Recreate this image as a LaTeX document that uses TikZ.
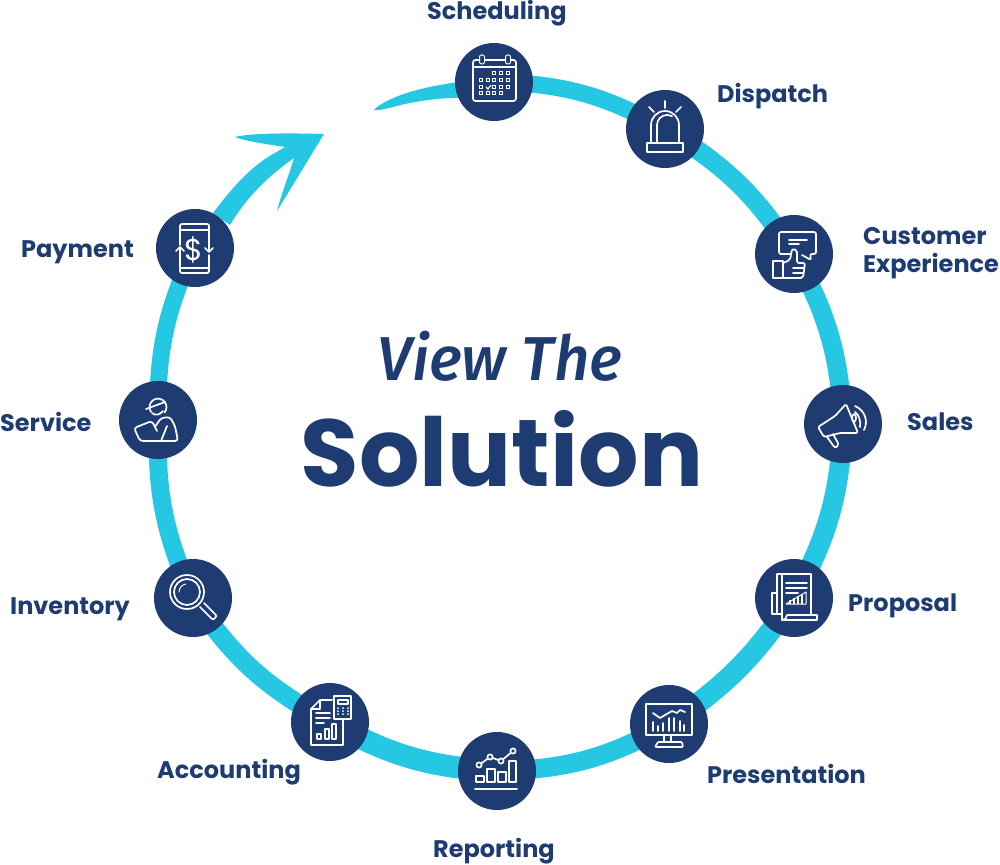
\documentclass[tikz,border=0pt]{standalone}
\usepackage{fontspec}
\setmainfont{Poppins}
\newfontfamily\viewfont{Fira Sans Medium}
\definecolor{navy}{HTML}{1E3C71}
\definecolor{ringblue}{HTML}{26C7E3}
\tikzset{
  stopdot/.style={circle,fill=navy,minimum size=78pt,inner sep=0pt},
  lab/.style={text=navy,font=\fontsize{24}{28}\selectfont\bfseries,inner sep=0pt,anchor=west,align=left},
  band/.style={draw=ringblue,line width=19pt},
  ic/.style={draw=white,line width=1.7pt,line join=round,line cap=round},
  icf/.style={draw=white,line width=1.1pt},
}
\begin{document}
\begin{tikzpicture}[x=1pt,y=-1pt]
\useasboundingbox (0,0) rectangle (1000,864);
% stops
\coordinate (psched) at (494,82);
\coordinate (pdisp) at (665,129);
\coordinate (pcust) at (794,254);
\coordinate (psales) at (843,424);
\coordinate (pprop) at (794,598);
\coordinate (ppres) at (669,724);
\coordinate (prep) at (497,771);
\coordinate (pacc) at (330,722);
\coordinate (pinv) at (193,598);
\coordinate (pserv) at (158,420);
\coordinate (ppay) at (195,248);
% ring
\draw[band,line width=17pt] (psched) to[bend left=14] (pdisp);
\draw[band] (pdisp) to[bend left=13] (pcust);
\draw[band] (pcust) to[bend left=13] (psales);
\draw[band,line width=20pt] (psales) to[bend left=13] (pprop);
\draw[band,line width=21pt] (pprop) to[bend left=11] (ppres);
\draw[band] (ppres) to[bend left=14] (prep);
\draw[band,line width=22pt] (prep) to[bend left=13] (pacc);
\draw[band] (pacc) to[bend left=14] (pinv);
\draw[band,line width=18pt] (pinv) to[bend left=13] (pserv);
\draw[band,line width=17pt] (pserv) to[bend left=13] (ppay);
% tail at the scheduling stop
\fill[ringblue] (374,110) .. controls (378,104) and (400,94) .. (417,90) .. controls (432,86) and (445,84) .. (470,80)
  -- (470,98) .. controls (445,97) and (425,100) .. (405,104) .. controls (392,107) and (380,111) .. (374,110) -- cycle;
% arrow from the payment stop
\fill[ringblue] (213,213) .. controls (232,188) and (248,170) .. (268,157) -- (285,147)
  .. controls (265,144) and (245,141) .. (235,137) .. controls (250,133) and (290,133) .. (324,134)
  -- (277,211) .. controls (281,195) and (290,172) .. (294,158)
  .. controls (270,175) and (248,195) .. (230,225) -- cycle;
% nodes
\node[stopdot] (sched) at (psched) {};
\node[stopdot] (disp) at (pdisp) {};
\node[stopdot] (cust) at (pcust) {};
\node[stopdot] (sales) at (psales) {};
\node[stopdot] (prop) at (pprop) {};
\node[stopdot] (pres) at (ppres) {};
\node[stopdot] (rep) at (prep) {};
\node[stopdot] (acc) at (pacc) {};
\node[stopdot] (inv) at (pinv) {};
\node[stopdot] (serv) at (pserv) {};
\node[stopdot] (pay) at (ppay) {};
% labels
\node[lab] (lsched) at (427,13) {Scheduling};
\node[lab] (ldisp) at (717,96) {Dispatch};
\node[lab] (lcust) at (863,253) {Customer\\Experience};
\node[lab] (lsales) at (907,422) {Sales};
\node[lab] (lprop) at (848,606) {Proposal};
\node[lab] (lpres) at (707,774) {Presentation};
\node[lab] (lrep) at (433,851) {Reporting};
\node[lab] (lacc) at (157,772) {Accounting};
\node[lab] (linv) at (10,609) {Inventory};
\node[lab] (lserv) at (0,422) {Service};
\node[lab] (lpay) at (21,252) {Payment};
\node[text=navy,font=\viewfont\itshape\fontsize{62}{62}\selectfont,inner sep=0pt] (view) at (500,356) {View The};
\node[text=navy,font=\fontsize{95}{95}\selectfont\bfseries,inner sep=0pt] (sol) at (502,449) {Solution};
% calendar
\begin{scope}[shift={(sched)}]
\draw[ic,rounded corners=2.5pt] (-21,-22) rectangle (22,19);
\draw[ic] (-21,-15) -- (22,-15);
\draw[ic,fill=navy,line width=1pt,rounded corners=2pt] (-14.5,-27) rectangle (-9.5,-18);
\draw[ic,fill=navy,line width=1pt,rounded corners=2pt] (11.5,-27) rectangle (16.5,-18);
\foreach \x/\y in {0/-9,7/-9,14/-9,-13/-2,-6/-2,0/-2,7/-2,14/-2,-13/5,0/5,7/5,14/5,-13/11,-6/11,0/11,7/11}
  \draw[icf] (\x-1.8,\y-1.8) rectangle (\x+1.8,\y+1.8);
\draw[icf] (-8,5) -- (-6,7) -- (-3,3);
\end{scope}
% siren
\begin{scope}[shift={(disp)}]
\draw[ic] (-18,14) rectangle (18,23);
\draw[ic] (-14,14) -- (-14,-4) arc[start angle=180,end angle=360,radius=14] -- (14,14);
\draw[ic] (-8,14) -- (-8,-4) arc[start angle=180,end angle=300,radius=10];
\draw[ic] (0,-28) -- (0,-21) (-16,-22) -- (-11,-17) (16,-22) -- (11,-17);
\end{scope}
% customer experience
\begin{scope}[shift={(cust)}]
\draw[ic,rounded corners=2pt] (-3,0) -- (-15,0) -- (-15,-22) -- (22,-22) -- (22,0) -- (16,0) -- (17,6) -- (8,1);
\draw[ic] (-5,-14) -- (13,-14) (-5,-10) -- (5,-10);
\draw[ic] (-21,7) rectangle (-11,24);
\draw[ic,rounded corners=2pt] (-11,9) -- (-4,6) -- (-2,-5) -- (3,-4) -- (3,9) -- (11,9) -- (9,24) -- (-11,24);
\draw[ic] (-1,14) -- (10,14) (-1,19) -- (9,19);
\end{scope}
% megaphone
\begin{scope}[shift={(sales)}]
\draw[ic,rounded corners=1.5pt] (-8,-8) -- (3,-20) -- (15,9) -- (-3,9) -- (-19,13) -- (-25,3) -- cycle;
\draw[ic,rounded corners=2pt] (-16,13) -- (-8,24) -- (-4,21) -- (-10,10);
\draw[ic] (11,-6) ellipse[x radius=2pt,y radius=4pt];
\draw[ic] (12,-12) .. controls (16,-9) and (18,-3) .. (17,3);
\draw[ic] (12,-18) .. controls (21,-14) and (26,-4) .. (21,6);
\end{scope}
% proposal
\begin{scope}[shift={(prop)}]
\draw[ic] (-12,22) -- (-12,-24) (-17,-24) -- (17,-24) -- (17,17) (-17,-24) -- (-17,16) -- (-12,16) (-17,-5) -- (-22,-5) -- (-22,16) -- (-17,16);
\draw[ic] (-12,22) -- (23,22) -- (23,17) -- (-7,17) (-12,22) .. controls (-9,22) and (-7,20) .. (-7,17);
\draw[ic] (-8,-15) -- (13,-15) (-8,-10) -- (13,-10) (-8,-5) -- (4,-5);
\draw[ic,line width=1pt] (-8,6) -- (12,-6) -- (12,6) -- cycle;
\foreach \x in {-4,0,4,8} \draw[icf] (\x,6) -- (\x,{0-\x*0.45});
\end{scope}
% presentation
\begin{scope}[shift={(pres)}]
\draw[ic] (-23,-20) rectangle (23,11);
\draw[ic] (-5,11) -- (-5,18) (2,11) -- (2,18);
\draw[ic,rounded corners=1pt] (-11,18) -- (13,18) -- (14,23) -- (-14,23) -- cycle;
\draw[ic] (-16,-11) -- (-9,-6) -- (-4,-9) -- (3,-13) -- (8,-11) -- (11,-14) -- (16,-12);
\foreach \x/\y in {-16/-2,-11/2,-6/-1,0/-6,5/-6,11/-3,15/1}
  \draw[ic] (\x,7) -- (\x,\y);
\end{scope}
% reporting
\begin{scope}[shift={(rep)}]
\draw[ic] (-21,5) rectangle (-13,11) (-10,-2) rectangle (-2,11) (1,1) rectangle (9,11) (12,-10) rectangle (19,11);
\draw[ic] (-22,18) -- (20,18);
\draw[ic] (-18,-6) -- (-7,-14) -- (4,-10) -- (16,-20);
\foreach \x/\y in {-18/-6,-7/-14,4/-10,16/-20}
  \draw[ic,fill=navy] (\x,\y) circle[radius=2.6pt];
\end{scope}
% accounting
\begin{scope}[shift={(acc)}]
\draw[ic] (2,-22) -- (-10,-22) -- (-19,-13) -- (-19,23) -- (13,23) -- (13,-3);
\draw[ic] (-10,-22) -- (-10,-13) -- (-19,-13);
\draw[ic] (-14,-9) -- (0,-9) (-14,-4) -- (0,-4) (-14,1) -- (-6,1);
\draw[ic] (-13,12) rectangle (-9,17) (-5,7) rectangle (-1,17) (2,2) rectangle (6,17);
\draw[ic] (4,-26) rectangle (21,-3) (8,-22) rectangle (18,-18);
\foreach \x in {8,13,18} \foreach \y in {-14,-11,-8} \fill[white] (\x,\y) circle[radius=1pt];
\end{scope}
% inventory
\begin{scope}[shift={(inv)}]
\draw[ic] (-6,-6) circle[radius=17pt];
\draw[ic] (-6,-6) circle[radius=13pt];
\draw[ic,line width=1pt] (-14,-6) arc[start angle=180,end angle=260,radius=8];
\draw[ic,rounded corners=2pt] (7,9) -- (20,22) -- (24,18) -- (11,5);
\end{scope}
% service
\begin{scope}[shift={(serv)}]
\draw[ic] (-7,-8) arc[start angle=145,end angle=400,radius=8.5];
\draw[ic] (-12,-11) -- (7,-18);
\draw[ic] (-6,-7) .. controls (-3,-4) and (2,-5) .. (5,-9);
\draw[ic,rounded corners=3pt] (-3,7) -- (3,-2) -- (12,-3) -- (17,6) -- (20,21) -- (-18,21) -- (-24,8) -- (-6,1) -- (-1,11);
\draw[ic] (9,6) -- (3,21);
\end{scope}
% payment
\begin{scope}[shift={(pay)}]
\draw[ic,rounded corners=2pt] (-15,-3) -- (-15,-24) -- (14,-24) -- (14,-7) (-15,14) -- (-15,25) -- (14,25) -- (14,7);
\draw[ic] (-15,-18) -- (14,-18) (-15,20) -- (14,20);
\draw[ic] (-15,15) -- (-15,0) (-19,3) -- (-15,-1) -- (-11,3);
\draw[ic] (14,-10) -- (14,3) (10,0) -- (14,4) -- (18,0);
\node[text=white,inner sep=0pt,font=\fontsize{30}{30}\selectfont] (dollar) at (-1,2) {\$};
\end{scope}
\end{tikzpicture}
\end{document}
